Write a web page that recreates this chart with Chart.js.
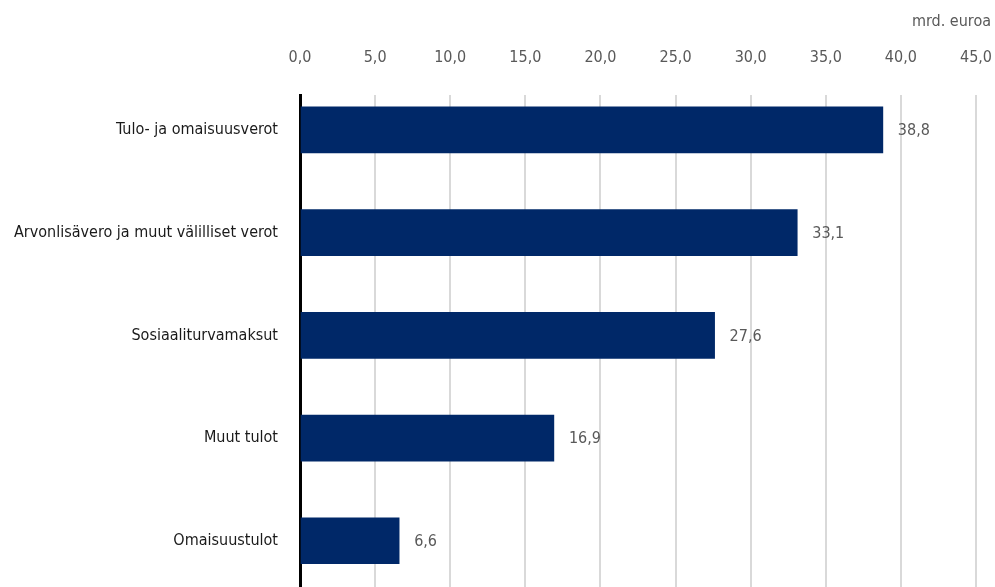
<!DOCTYPE html>
<html>
<head>
<meta charset="utf-8">
<script src="https://cdn.jsdelivr.net/npm/chart.js@4.4.0/dist/chart.umd.min.js"></script>
<style>
  html, body { margin: 0; padding: 0; background: #fff; overflow: hidden; }
  canvas { display: block; }
</style>
</head>
<body>
<canvas id="myChart" width="995" height="587"></canvas>
<script>
// data
const categories = ['Tulo- ja omaisuusverot', 'Arvonlisävero ja muut välilliset verot', 'Sosiaaliturvamaksut', 'Muut tulot', 'Omaisuustulot'];
const values = [38.8, 33.1, 27.6, 16.9, 6.6];
const unitLabel = 'mrd. euroa';

const FONT = "'DejaVu Sans Condensed', 'Liberation Sans Narrow', sans-serif";
const fmt = v => v.toFixed(1).replace('.', ',');

// value labels at the end of each bar + unit text
const labelsPlugin = {
  id: 'valueLabels',
  afterDatasetsDraw(chart) {
    const c = chart.ctx;
    const meta = chart.getDatasetMeta(0);
    c.save();
    c.font = '16px ' + FONT;
    c.fillStyle = '#595959';
    c.textAlign = 'left';
    c.textBaseline = 'middle';
    meta.data.forEach((bar, i) => {
      c.fillText(fmt(values[i]), bar.x + 15, bar.y + 1);
    });
    c.textAlign = 'right';
    c.fillText(unitLabel, 991, 22);
    c.restore();
  }
};

window.addEventListener("load", function(){
  const ctx = document.getElementById('myChart');
  new Chart(ctx, {
    type: 'bar',
    data: {
      datasets: [{
        data: values.map((v, i) => ({x: v, y: i})),
        backgroundColor: '#002868',
        borderWidth: 0,
        barThickness: 46
      }]
    },
    options: {
      indexAxis: 'y',
      responsive: false,
      animation: false,
      devicePixelRatio: 1,
      layout: { padding: { left: 0, right: 19, top: 0, bottom: 0 } },
      plugins: { legend: { display: false }, tooltip: { enabled: false } },
      scales: {
        x: {
          position: 'top',
          min: 0,
          max: 45,
          ticks: {
            stepSize: 5,
            padding: 28,
            color: '#595959',
            font: { family: FONT, size: 16 },
            callback: v => fmt(v)
          },
          grid: { color: '#d9d9d9', lineWidth: 2, drawTicks: false },
          border: { display: false },
          afterFit: s => { s.height = 95; s.paddingLeft = 0; s.paddingRight = 0; }
        },
        y: {
          type: 'linear',
          reverse: true,
          offset: false,
          min: -0.34,
          max: 4.45,
          ticks: {
            stepSize: 1,
            includeBounds: false,
            padding: 22,
            color: '#1a1a1a',
            font: { family: FONT, size: 16 },
            callback: v => categories[v] || ''
          },
          grid: { display: false, drawTicks: false, offset: false },
          border: { display: true, color: '#000', width: 3 },
          afterFit: s => { s.width = 300; s.paddingTop = 0; s.paddingBottom = 0; }
        }
      }
    },
    plugins: [labelsPlugin]
  });
});
</script>
</body>
</html>
